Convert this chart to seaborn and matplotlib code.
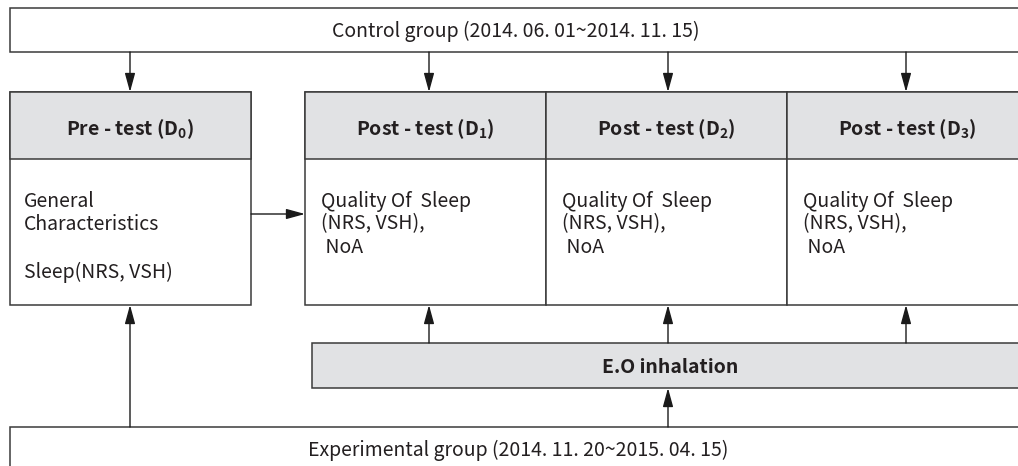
import matplotlib
matplotlib.use("Agg")
import matplotlib.pyplot as plt
import seaborn as sns
from matplotlib.patches import Rectangle

sns.set_theme(style="white")
plt.rcParams['font.family'] = ['Noto Sans CJK KR', 'DejaVu Sans']
plt.rcParams['mathtext.default'] = 'regular'

# ---- content ----
top_label = "Control group (2014. 06. 01~2014. 11. 15)"
bottom_label = "Experimental group (2014. 11. 20~2015. 04. 15)"
header_labels = ["Pre - test (D$_0$)", "Post - test (D$_1$)", "Post - test (D$_2$)", "Post - test (D$_3$)"]
body_lines = [
    ["General", "Characteristics", "Sleep(NRS, VSH)"],
    ["Quality Of  Sleep", "(NRS, VSH),", " NoA"],
    ["Quality Of  Sleep", "(NRS, VSH),", " NoA"],
    ["Quality Of  Sleep", "(NRS, VSH),", " NoA"],
]
middle_label = "E.O inhalation"

# ---- layout (pixels) ----
W, H = 1018, 466
col_left = [10, 305, 546, 787]
col_right = [251, 546, 787, 1030]
box_top, header_bot, box_bot = 92, 159, 305
baselines = [[207, 230, 278], [207, 229, 253], [207, 229, 253], [207, 229, 253]]
edge = "#3a3a3a"
fill = "#e1e2e4"
tc = "#231f20"

fig = plt.figure(figsize=(W / 100, H / 100), dpi=100)
ax = fig.add_axes([0, 0, 1, 1])
ax.set_xlim(0, W)
ax.set_ylim(H, 0)
ax.axis("off")

def rect(x0, y0, x1, y1, fc="white", lw=1.1):
    ax.add_patch(Rectangle((x0, y0), x1 - x0, y1 - y0, fc=fc, ec=edge, lw=lw, zorder=2))

def arrow(x0, y0, x1, y1):
    ax.annotate("", xy=(x1, y1), xytext=(x0, y0),
                arrowprops=dict(arrowstyle="-|>,head_length=0.95,head_width=0.26",
                                color="#1a1a1a", lw=1.0, shrinkA=0, shrinkB=0),
                zorder=3)

fs = 14.0

# top control box
rect(10, 8, 1030, 52)
ax.text(516, 37, top_label, ha="center", va="baseline", fontsize=fs, color=tc, zorder=4)

# columns
for i in range(4):
    rect(col_left[i], box_top, col_right[i], box_bot)
    rect(col_left[i], box_top, col_right[i], header_bot, fc=fill)
    cx = (col_left[i] + min(col_right[i], 1027)) / 2
    ax.text(cx, 135, header_labels[i], ha="center", va="baseline", fontsize=fs,
            fontweight="semibold", color=tc, zorder=4)
    x0 = 24 if i == 0 else col_left[i] + 16
    for line, yb in zip(body_lines[i], baselines[i]):
        ax.text(x0, yb, line, ha="left", va="baseline", fontsize=fs, color=tc, zorder=4)

# E.O inhalation box
rect(312, 343, 1030, 388, fc=fill)
ax.text(670, 373, middle_label, ha="center", va="baseline", fontsize=fs,
        fontweight="semibold", color=tc, zorder=4)

# experimental group box
rect(10, 427, 1030, 480)
ax.text(518, 456, bottom_label, ha="center", va="baseline", fontsize=fs, color=tc, zorder=4)

# arrows
arrow_x = [130, 429, 668, 906]
for x in arrow_x:
    arrow(x, 52, x, box_top)
for x in arrow_x[1:]:
    arrow(x, 343, x, box_bot)
arrow(668, 427, 668, 388)
arrow(130, 427, 130, box_bot)
arrow(251, 214, 305, 214)

fig.savefig("out.png", dpi=100)
